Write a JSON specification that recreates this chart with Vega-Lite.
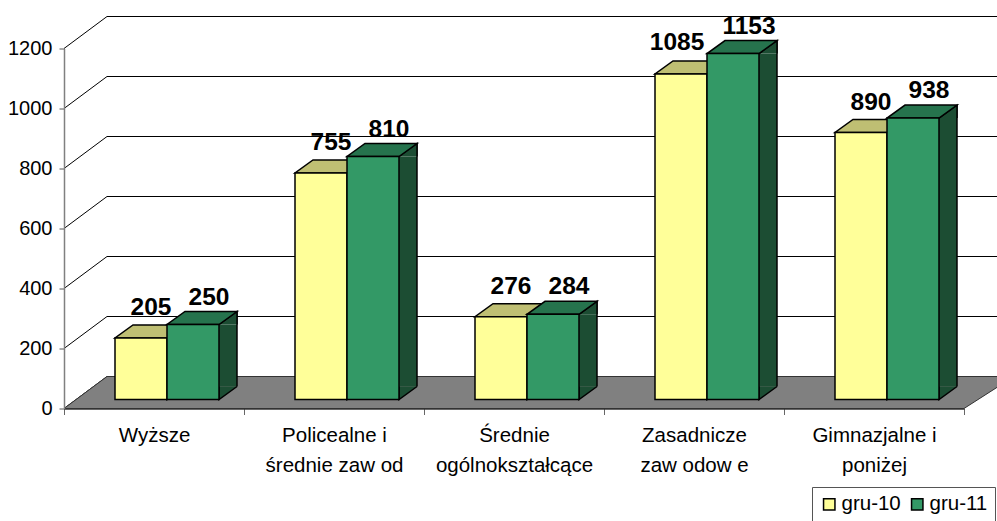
{"$schema":"https://vega.github.io/schema/vega-lite/v6.json","width":900,"height":360,"autosize":{"type":"none"},"padding":{"left":64,"top":48.5,"right":33,"bottom":112.5},"background":"white",
"config":{"font":"Liberation Sans","view":{"stroke":null}},
"datasets":{"rows":[
{"cat":"Wyższe","series":"gru-10","v":205},{"cat":"Wyższe","series":"gru-11","v":250},
{"cat":"Policealne i|średnie zaw od","series":"gru-10","v":755},{"cat":"Policealne i|średnie zaw od","series":"gru-11","v":810},
{"cat":"Średnie|ogólnokształcące","series":"gru-10","v":276},{"cat":"Średnie|ogólnokształcące","series":"gru-11","v":284},
{"cat":"Zasadnicze|zaw odow e","series":"gru-10","v":1085},{"cat":"Zasadnicze|zaw odow e","series":"gru-11","v":1153},
{"cat":"Gimnazjalne i|poniżej","series":"gru-10","v":890},{"cat":"Gimnazjalne i|poniżej","series":"gru-11","v":938}],
"ticks":[{"t":0},{"t":200},{"t":400},{"t":600},{"t":800},{"t":1000},{"t":1200}]},
"data":{"name":"rows"},
"resolve":{"scale":{"xOffset":"independent"}},
"encoding":{
"x":{"field":"cat","type":"nominal","sort":null,"title":null,"scale":{"type":"band","paddingInner":0,"paddingOuter":0,"domain":["Wyższe","Policealne i|średnie zaw od","Średnie|ogólnokształcące","Zasadnicze|zaw odow e","Gimnazjalne i|poniżej"]},
"axis":{"labelAngle":0,"labelExpr":"datum.value ? split(datum.value,'|') : ''","labelFontSize":20.5,"labelLineHeight":30,"labelColor":"black","labelPadding":11,"labelBaseline":"top","tickBand":"extent","tickSize":6,"tickColor":"#666","domainColor":"#333","domainWidth":1.5,"zindex":1,"grid":false}},
"y":{"field":"v","type":"quantitative","title":null,"scale":{"domain":[0,1200],"nice":false},
"axis":{"values":[0,200,400,600,800,1000,1200],"format":"d","labelFontSize":20,"labelColor":"black","labelPadding":7,"tickSize":5,"tickColor":"#555","domainColor":"#808080","domainWidth":1.5,"zindex":1,"grid":false}},
"xOffset":{"field":"series","type":"nominal","scale":{"type":"band","domain":["gru-10","gru-11"],"range":[51,155],"padding":0}}
},
"layer":[
{"data":{"name":"ticks"},"mark":{"type":"point","shape":"M0,0L43,-32L933,-32","size":4,"filled":false,"fill":null,"stroke":"black","strokeWidth":1,"opacity":1},
"encoding":{"x":{"datum":"Wyższe"},"xOffset":{"value":0},"y":{"field":"t","type":"quantitative"}}},
{"data":{"values":[{"t":0}]},"mark":{"type":"point","shape":"M0,0L43,-32L950,-32L900,0Z","size":4,"filled":true,"fill":"#808080","stroke":"#333","strokeWidth":1,"opacity":1},
"encoding":{"x":{"datum":"Wyższe"},"xOffset":{"value":0},"y":{"field":"t","type":"quantitative"}}},
{"mark":{"type":"bar","width":18,"yOffset":-9,"y2Offset":-22,"fill":"#1C4D33"},"encoding":{"y2":{"datum":0},"xOffset":{"field":"series","type":"nominal","scale":{"type":"band","domain":["gru-10","gru-11"],"range":[86,190],"padding":0}}}},
{"mark":{"type":"bar","width":1.5,"yOffset":-22,"y2Offset":-22,"fill":"black"},"encoding":{"y2":{"datum":0},"xOffset":{"field":"series","type":"nominal","scale":{"type":"band","domain":["gru-10","gru-11"],"range":[95,199],"padding":0}}}},
{"mark":{"type":"point","shape":"M26,0L44,-13L44,0","size":4,"filled":true,"fill":"#1C4D33","stroke":"black","strokeWidth":1.5,"opacity":1,"yOffset":-9}},
{"mark":{"type":"point","shape":"M44,-13L26,0L26,-13","size":4,"filled":true,"fill":"#1C4D33","stroke":"black","strokeWidth":1.5,"opacity":1,"yOffset":-9},"encoding":{"y":{"datum":0}}},
{"mark":{"type":"point","shape":"M-26,0L26,0L44,-13L-8,-13Z","size":4,"filled":true,"stroke":"black","strokeWidth":1.5,"opacity":1,"yOffset":-9},
"encoding":{"fill":{"condition":{"test":"datum.series==='gru-10'","value":"#BFBF73"},"value":"#26734D"}}},
{"mark":{"type":"bar","yOffset":-9,"y2Offset":-9,"stroke":"black","strokeWidth":1.5},
"encoding":{"y2":{"datum":0},"fill":{"field":"series","type":"nominal","scale":{"domain":["gru-10","gru-11"],"range":["#FFFF99","#339966"]},
"legend":{"title":null,"orient":"none","legendX":748,"legendY":438.5,"direction":"horizontal","columns":2,"symbolType":"square","symbolSize":130,"symbolStrokeColor":"black","symbolStrokeWidth":1.5,"symbolOpacity":1,"labelFontSize":20.5,"labelColor":"black","labelOffset":2,"columnPadding":6,"padding":7,"strokeColor":"#555","fillColor":"white"}}}},
{"transform":[{"filter":"datum.series==='gru-10' && datum.v!==1085"}],"mark":{"type":"text","font":"Liberation Sans","fontWeight":"bold","fontSize":24.5,"dx":10,"dy":-32,"baseline":"alphabetic","color":"black"},"encoding":{"text":{"field":"v","type":"quantitative"}}},
{"transform":[{"filter":"datum.v===1085"}],"mark":{"type":"text","font":"Liberation Sans","fontWeight":"bold","fontSize":24.5,"dx":-4,"dy":-33,"baseline":"alphabetic","color":"black"},"encoding":{"text":{"field":"v","type":"quantitative"}}},
{"transform":[{"filter":"datum.series==='gru-11'"}],"mark":{"type":"text","font":"Liberation Sans","fontWeight":"bold","fontSize":24.5,"dx":16,"dy":-29,"baseline":"alphabetic","color":"black"},"encoding":{"text":{"field":"v","type":"quantitative"}}}
]}
